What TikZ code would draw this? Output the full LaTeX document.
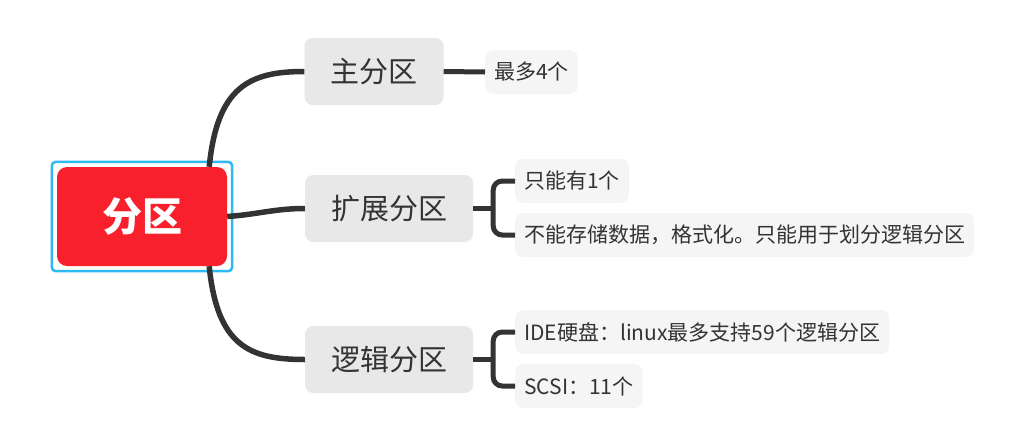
\documentclass[tikz,border=0pt]{standalone}
\usepackage{fontspec}
\newfontfamily\cjk{Noto Sans CJK SC}
\usetikzlibrary{positioning}
\definecolor{rootred}{HTML}{F9202E}
\definecolor{selblue}{HTML}{2DB9F2}
\definecolor{topicgray}{HTML}{E8E8E8}
\definecolor{leafgray}{HTML}{F5F5F5}
\definecolor{linecol}{HTML}{333333}
\tikzset{
  topic/.style={fill=topicgray, rounded corners=8pt, inner xsep=26pt, inner ysep=0pt,
    minimum height=67pt, text=linecol, font=\cjk\fontsize{29}{29}\selectfont},
  leaf/.style={fill=leafgray, rounded corners=8pt, inner xsep=9pt, inner ysep=0pt,
    minimum height=44pt, anchor=west, text=linecol, font=\cjk\fontsize{21}{21}\selectfont},
  link/.style={draw=linecol, line width=5.5pt},
  sublink/.style={draw=linecol, line width=5pt},
}
\begin{document}
\begin{tikzpicture}[x=1pt, y=-1pt]
        \useasboundingbox (0, 0) rectangle (1024, 440);

        \node[fill=rootred, rounded corners=10pt, minimum width=170pt, minimum height=99pt,
              text=white, font=\cjk\bfseries\fontsize{40}{40}\selectfont] (root) at (142, 216.5) {分区};
        \draw[selblue, line width=2.5pt, rounded corners=4pt]
              ([shift={(-5, 5)}]root.south west) rectangle ([shift={(5, -5)}]root.north east);

        \node[topic] (main) at (374, 71.5) {主分区};
        \node[topic] (ext) at (389, 208.5) {扩展分区};
        \node[topic] (logic) at (389, 359.5) {逻辑分区};

        \node[leaf] (mostfour) at (485, 72) {最多4个};
        \node[leaf] (extone) at (515, 181) {只能有1个};
        \node[leaf] (extdata) at (515, 235) {不能存储数据，格式化。只能用于划分逻辑分区};
        \node[leaf] (ide) at (515, 332) {IDE硬盘：linux最多支持59个逻辑分区};
        \node[leaf] (scsi) at (515, 386) {SCSI：11个};

        % root to topics
        \draw[link] ([xshift=-18]root.north east) .. controls ++(8, -80) and ++(-55, 0) .. (main.west);
        \draw[link] (root.east) .. controls ++(30, -2) and ++(-30, 0) .. (ext.west);
        \draw[link] ([xshift=-18]root.south east) .. controls ++(8, 80) and ++(-55, 0) .. (logic.west);

        % topics to leaves
        \draw[sublink] (main.east) -- (mostfour.west);
        \coordinate (extjoint) at ([xshift=20]ext.east);
        \coordinate (logicjoint) at ([xshift=20]logic.east);
        \draw[sublink] (ext.east) -- (extjoint);
        \draw[sublink, rounded corners=9pt] (extone.west) -| (extjoint) |- (extdata.west);
        \draw[sublink] (logic.east) -- (logicjoint);
        \draw[sublink, rounded corners=9pt] (ide.west) -| (logicjoint) |- (scsi.west);
    \end{tikzpicture}
\end{document}
